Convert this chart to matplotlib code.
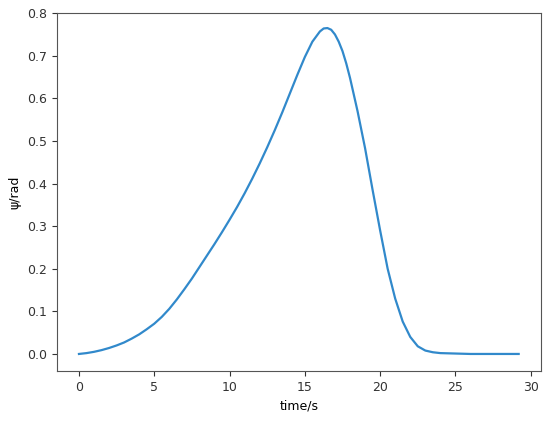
import numpy as np
import matplotlib.pyplot as plt

# time samples (s) and yaw angle psi (rad)
time_s = [0, 0.5, 1, 1.5, 2, 2.5, 3, 3.5, 4, 4.5, 5, 5.5, 6, 6.5, 7, 7.5,
          8, 8.5, 9, 9.5, 10, 10.5, 11, 11.5, 12, 12.5, 13, 13.5, 14, 14.5,
          15, 15.5, 16, 16.25, 16.5, 16.75, 17, 17.25, 17.5, 17.75, 18,
          18.5, 19, 19.5, 20, 20.5, 21, 21.5, 22, 22.5, 23, 23.5, 24, 25,
          26, 27, 28, 29.2]
psi_rad = [0.000, 0.002, 0.005, 0.009, 0.014, 0.020, 0.027, 0.036, 0.046,
           0.058, 0.071, 0.087, 0.106, 0.128, 0.152, 0.177, 0.204, 0.231,
           0.258, 0.286, 0.315, 0.345, 0.377, 0.411, 0.447, 0.485, 0.525,
           0.567, 0.611, 0.655, 0.697, 0.733, 0.757, 0.764, 0.765, 0.761,
           0.750, 0.733, 0.711, 0.682, 0.648, 0.570, 0.483, 0.385, 0.290,
           0.200, 0.130, 0.076, 0.040, 0.018, 0.008, 0.004, 0.002, 0.001,
           0.000, 0.000, 0.000, 0.000]

fig = plt.figure(figsize=(5.5, 4.24), dpi=100)
ax = fig.add_axes([0.1036, 0.125, 0.8794, 0.844])
ax.plot(time_s, psi_rad, color='#3189cb', linewidth=1.6)

ax.set_xticks([0, 5, 10, 15, 20, 25, 30])
ax.set_yticks(np.arange(0, 0.81, 0.1))
ax.set_ylim(-0.04, 0.80)
ax.tick_params(labelsize=9, colors='#333333')
for sp in ax.spines.values():
    sp.set_color('#555555')
ax.set_xlabel('time/s', fontsize=9)
ax.set_ylabel('ψ/rad', fontsize=9)

fig.savefig('out.png', dpi=100)
